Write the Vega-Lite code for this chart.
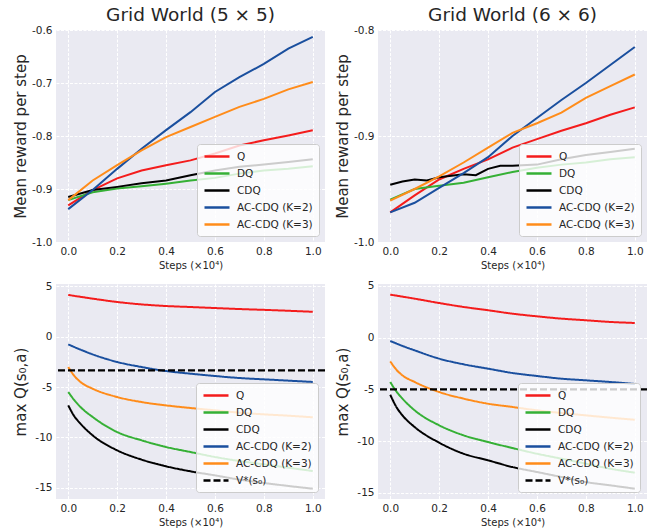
{
  "$schema": "https://vega.github.io/schema/vega-lite/v6.json",
  "padding": {"left": 13, "top": 5, "right": 0, "bottom": 0},
  "bounds": "flush",
  "columns": 2,
  "spacing": {"row": 42, "column": 53},
  "config": {
    "font": "DejaVu Sans",
    "view": {"fill": "#EAEAF2", "stroke": null},
    "axis": {"domain": false, "ticks": false, "labelFontSize": 10.5, "labelColor": "#262626", "labelPadding": 4, "gridColor": "#ffffff", "gridDash": [3, 1.5], "gridWidth": 1, "gridOpacity": 1, "titleFontWeight": "normal", "titleColor": "#262626"},
    "axisX": {"titleFontSize": 10, "titlePadding": 4},
    "axisY": {"titleFontSize": 15},
    "title": {"fontSize": 18.5, "fontWeight": "normal", "color": "#262626", "offset": 1, "baseline": "alphabetic", "anchor": "middle"}
  },
  "datasets": {
    "tl": [
      {"s": "Q", "x": 0, "y": -0.931}, {"s": "Q", "x": 0.1, "y": -0.902}, {"s": "Q", "x": 0.2, "y": -0.880}, {"s": "Q", "x": 0.3, "y": -0.865}, {"s": "Q", "x": 0.4, "y": -0.855}, {"s": "Q", "x": 0.5, "y": -0.846}, {"s": "Q", "x": 0.6, "y": -0.833}, {"s": "Q", "x": 0.7, "y": -0.818}, {"s": "Q", "x": 0.8, "y": -0.808}, {"s": "Q", "x": 0.9, "y": -0.799}, {"s": "Q", "x": 1.0, "y": -0.789},
      {"s": "DQ", "x": 0, "y": -0.921}, {"s": "DQ", "x": 0.1, "y": -0.906}, {"s": "DQ", "x": 0.2, "y": -0.899}, {"s": "DQ", "x": 0.3, "y": -0.895}, {"s": "DQ", "x": 0.4, "y": -0.890}, {"s": "DQ", "x": 0.5, "y": -0.884}, {"s": "DQ", "x": 0.6, "y": -0.879}, {"s": "DQ", "x": 0.7, "y": -0.871}, {"s": "DQ", "x": 0.8, "y": -0.865}, {"s": "DQ", "x": 0.9, "y": -0.862}, {"s": "DQ", "x": 1.0, "y": -0.857},
      {"s": "CDQ", "x": 0, "y": -0.915}, {"s": "CDQ", "x": 0.1, "y": -0.902}, {"s": "CDQ", "x": 0.2, "y": -0.896}, {"s": "CDQ", "x": 0.3, "y": -0.889}, {"s": "CDQ", "x": 0.4, "y": -0.884}, {"s": "CDQ", "x": 0.5, "y": -0.874}, {"s": "CDQ", "x": 0.6, "y": -0.865}, {"s": "CDQ", "x": 0.7, "y": -0.858}, {"s": "CDQ", "x": 0.8, "y": -0.854}, {"s": "CDQ", "x": 0.9, "y": -0.849}, {"s": "CDQ", "x": 1.0, "y": -0.844},
      {"s": "AC-CDQ (K=2)", "x": 0, "y": -0.938}, {"s": "AC-CDQ (K=2)", "x": 0.1, "y": -0.902}, {"s": "AC-CDQ (K=2)", "x": 0.2, "y": -0.862}, {"s": "AC-CDQ (K=2)", "x": 0.3, "y": -0.824}, {"s": "AC-CDQ (K=2)", "x": 0.4, "y": -0.789}, {"s": "AC-CDQ (K=2)", "x": 0.5, "y": -0.755}, {"s": "AC-CDQ (K=2)", "x": 0.6, "y": -0.717}, {"s": "AC-CDQ (K=2)", "x": 0.7, "y": -0.689}, {"s": "AC-CDQ (K=2)", "x": 0.8, "y": -0.664}, {"s": "AC-CDQ (K=2)", "x": 0.9, "y": -0.635}, {"s": "AC-CDQ (K=2)", "x": 1.0, "y": -0.613},
      {"s": "AC-CDQ (K=3)", "x": 0, "y": -0.921}, {"s": "AC-CDQ (K=3)", "x": 0.1, "y": -0.884}, {"s": "AC-CDQ (K=3)", "x": 0.2, "y": -0.855}, {"s": "AC-CDQ (K=3)", "x": 0.3, "y": -0.827}, {"s": "AC-CDQ (K=3)", "x": 0.4, "y": -0.802}, {"s": "AC-CDQ (K=3)", "x": 0.5, "y": -0.783}, {"s": "AC-CDQ (K=3)", "x": 0.6, "y": -0.764}, {"s": "AC-CDQ (K=3)", "x": 0.7, "y": -0.745}, {"s": "AC-CDQ (K=3)", "x": 0.8, "y": -0.730}, {"s": "AC-CDQ (K=3)", "x": 0.9, "y": -0.712}, {"s": "AC-CDQ (K=3)", "x": 1.0, "y": -0.698}
    ],
    "tr": [
      {"s": "Q", "x": 0, "y": -0.972}, {"s": "Q", "x": 0.1, "y": -0.956}, {"s": "Q", "x": 0.2, "y": -0.941}, {"s": "Q", "x": 0.3, "y": -0.931}, {"s": "Q", "x": 0.4, "y": -0.922}, {"s": "Q", "x": 0.5, "y": -0.911}, {"s": "Q", "x": 0.6, "y": -0.903}, {"s": "Q", "x": 0.7, "y": -0.895}, {"s": "Q", "x": 0.8, "y": -0.888}, {"s": "Q", "x": 0.9, "y": -0.880}, {"s": "Q", "x": 1.0, "y": -0.873},
      {"s": "DQ", "x": 0, "y": -0.960}, {"s": "DQ", "x": 0.1, "y": -0.950}, {"s": "DQ", "x": 0.2, "y": -0.947}, {"s": "DQ", "x": 0.3, "y": -0.944}, {"s": "DQ", "x": 0.4, "y": -0.939}, {"s": "DQ", "x": 0.5, "y": -0.934}, {"s": "DQ", "x": 0.6, "y": -0.930}, {"s": "DQ", "x": 0.7, "y": -0.927}, {"s": "DQ", "x": 0.8, "y": -0.925}, {"s": "DQ", "x": 0.9, "y": -0.922}, {"s": "DQ", "x": 1.0, "y": -0.920},
      {"s": "CDQ", "x": 0, "y": -0.946}, {"s": "CDQ", "x": 0.05, "y": -0.943}, {"s": "CDQ", "x": 0.1, "y": -0.941}, {"s": "CDQ", "x": 0.15, "y": -0.942}, {"s": "CDQ", "x": 0.2, "y": -0.939}, {"s": "CDQ", "x": 0.3, "y": -0.936}, {"s": "CDQ", "x": 0.35, "y": -0.937}, {"s": "CDQ", "x": 0.4, "y": -0.931}, {"s": "CDQ", "x": 0.45, "y": -0.928}, {"s": "CDQ", "x": 0.5, "y": -0.928}, {"s": "CDQ", "x": 0.6, "y": -0.927}, {"s": "CDQ", "x": 0.7, "y": -0.922}, {"s": "CDQ", "x": 0.8, "y": -0.918}, {"s": "CDQ", "x": 0.9, "y": -0.915}, {"s": "CDQ", "x": 1.0, "y": -0.912},
      {"s": "AC-CDQ (K=2)", "x": 0, "y": -0.972}, {"s": "AC-CDQ (K=2)", "x": 0.1, "y": -0.963}, {"s": "AC-CDQ (K=2)", "x": 0.2, "y": -0.949}, {"s": "AC-CDQ (K=2)", "x": 0.3, "y": -0.935}, {"s": "AC-CDQ (K=2)", "x": 0.4, "y": -0.920}, {"s": "AC-CDQ (K=2)", "x": 0.5, "y": -0.900}, {"s": "AC-CDQ (K=2)", "x": 0.6, "y": -0.883}, {"s": "AC-CDQ (K=2)", "x": 0.7, "y": -0.866}, {"s": "AC-CDQ (K=2)", "x": 0.8, "y": -0.850}, {"s": "AC-CDQ (K=2)", "x": 0.9, "y": -0.833}, {"s": "AC-CDQ (K=2)", "x": 1.0, "y": -0.816},
      {"s": "AC-CDQ (K=3)", "x": 0, "y": -0.961}, {"s": "AC-CDQ (K=3)", "x": 0.1, "y": -0.950}, {"s": "AC-CDQ (K=3)", "x": 0.2, "y": -0.938}, {"s": "AC-CDQ (K=3)", "x": 0.3, "y": -0.925}, {"s": "AC-CDQ (K=3)", "x": 0.4, "y": -0.911}, {"s": "AC-CDQ (K=3)", "x": 0.5, "y": -0.897}, {"s": "AC-CDQ (K=3)", "x": 0.6, "y": -0.888}, {"s": "AC-CDQ (K=3)", "x": 0.7, "y": -0.878}, {"s": "AC-CDQ (K=3)", "x": 0.8, "y": -0.864}, {"s": "AC-CDQ (K=3)", "x": 0.9, "y": -0.853}, {"s": "AC-CDQ (K=3)", "x": 1.0, "y": -0.842}
    ],
    "bl": [
      {"s": "Q", "x": 0, "y": 4.12}, {"s": "Q", "x": 0.1, "y": 3.75}, {"s": "Q", "x": 0.2, "y": 3.42}, {"s": "Q", "x": 0.3, "y": 3.18}, {"s": "Q", "x": 0.4, "y": 3.02}, {"s": "Q", "x": 0.5, "y": 2.92}, {"s": "Q", "x": 0.6, "y": 2.82}, {"s": "Q", "x": 0.7, "y": 2.72}, {"s": "Q", "x": 0.8, "y": 2.64}, {"s": "Q", "x": 0.9, "y": 2.55}, {"s": "Q", "x": 1.0, "y": 2.45},
      {"s": "DQ", "x": 0, "y": -5.5}, {"s": "DQ", "x": 0.025, "y": -6.3}, {"s": "DQ", "x": 0.05, "y": -6.98}, {"s": "DQ", "x": 0.1, "y": -7.97}, {"s": "DQ", "x": 0.2, "y": -9.46}, {"s": "DQ", "x": 0.3, "y": -10.28}, {"s": "DQ", "x": 0.4, "y": -10.94}, {"s": "DQ", "x": 0.5, "y": -11.44}, {"s": "DQ", "x": 0.6, "y": -11.93}, {"s": "DQ", "x": 0.7, "y": -12.33}, {"s": "DQ", "x": 0.8, "y": -12.66}, {"s": "DQ", "x": 0.9, "y": -12.99}, {"s": "DQ", "x": 1.0, "y": -13.32},
      {"s": "CDQ", "x": 0, "y": -6.82}, {"s": "CDQ", "x": 0.025, "y": -7.9}, {"s": "CDQ", "x": 0.05, "y": -8.63}, {"s": "CDQ", "x": 0.1, "y": -9.79}, {"s": "CDQ", "x": 0.2, "y": -11.27}, {"s": "CDQ", "x": 0.3, "y": -12.19}, {"s": "CDQ", "x": 0.4, "y": -12.85}, {"s": "CDQ", "x": 0.5, "y": -13.35}, {"s": "CDQ", "x": 0.6, "y": -13.75}, {"s": "CDQ", "x": 0.7, "y": -14.17}, {"s": "CDQ", "x": 0.8, "y": -14.5}, {"s": "CDQ", "x": 0.9, "y": -14.8}, {"s": "CDQ", "x": 1.0, "y": -15.07},
      {"s": "AC-CDQ (K=2)", "x": 0, "y": -0.78}, {"s": "AC-CDQ (K=2)", "x": 0.05, "y": -1.3}, {"s": "AC-CDQ (K=2)", "x": 0.1, "y": -1.77}, {"s": "AC-CDQ (K=2)", "x": 0.2, "y": -2.52}, {"s": "AC-CDQ (K=2)", "x": 0.3, "y": -3.02}, {"s": "AC-CDQ (K=2)", "x": 0.4, "y": -3.42}, {"s": "AC-CDQ (K=2)", "x": 0.5, "y": -3.68}, {"s": "AC-CDQ (K=2)", "x": 0.6, "y": -3.91}, {"s": "AC-CDQ (K=2)", "x": 0.7, "y": -4.11}, {"s": "AC-CDQ (K=2)", "x": 0.8, "y": -4.24}, {"s": "AC-CDQ (K=2)", "x": 0.9, "y": -4.37}, {"s": "AC-CDQ (K=2)", "x": 1.0, "y": -4.5},
      {"s": "AC-CDQ (K=3)", "x": 0, "y": -3.02}, {"s": "AC-CDQ (K=3)", "x": 0.025, "y": -3.9}, {"s": "AC-CDQ (K=3)", "x": 0.05, "y": -4.5}, {"s": "AC-CDQ (K=3)", "x": 0.1, "y": -5.17}, {"s": "AC-CDQ (K=3)", "x": 0.2, "y": -5.99}, {"s": "AC-CDQ (K=3)", "x": 0.3, "y": -6.49}, {"s": "AC-CDQ (K=3)", "x": 0.4, "y": -6.82}, {"s": "AC-CDQ (K=3)", "x": 0.5, "y": -7.08}, {"s": "AC-CDQ (K=3)", "x": 0.6, "y": -7.31}, {"s": "AC-CDQ (K=3)", "x": 0.7, "y": -7.54}, {"s": "AC-CDQ (K=3)", "x": 0.8, "y": -7.71}, {"s": "AC-CDQ (K=3)", "x": 0.9, "y": -7.84}, {"s": "AC-CDQ (K=3)", "x": 1.0, "y": -8.0}
    ],
    "br": [
      {"s": "Q", "x": 0, "y": 4.16}, {"s": "Q", "x": 0.1, "y": 3.77}, {"s": "Q", "x": 0.2, "y": 3.35}, {"s": "Q", "x": 0.3, "y": 2.97}, {"s": "Q", "x": 0.4, "y": 2.65}, {"s": "Q", "x": 0.5, "y": 2.32}, {"s": "Q", "x": 0.6, "y": 2.06}, {"s": "Q", "x": 0.7, "y": 1.84}, {"s": "Q", "x": 0.8, "y": 1.68}, {"s": "Q", "x": 0.9, "y": 1.52}, {"s": "Q", "x": 1.0, "y": 1.42},
      {"s": "DQ", "x": 0, "y": -4.29}, {"s": "DQ", "x": 0.025, "y": -5.2}, {"s": "DQ", "x": 0.05, "y": -5.9}, {"s": "DQ", "x": 0.1, "y": -7.03}, {"s": "DQ", "x": 0.2, "y": -8.48}, {"s": "DQ", "x": 0.3, "y": -9.45}, {"s": "DQ", "x": 0.4, "y": -10.1}, {"s": "DQ", "x": 0.5, "y": -10.68}, {"s": "DQ", "x": 0.6, "y": -11.23}, {"s": "DQ", "x": 0.7, "y": -11.71}, {"s": "DQ", "x": 0.8, "y": -12.19}, {"s": "DQ", "x": 0.9, "y": -12.68}, {"s": "DQ", "x": 1.0, "y": -13.06},
      {"s": "CDQ", "x": 0, "y": -5.52}, {"s": "CDQ", "x": 0.025, "y": -6.7}, {"s": "CDQ", "x": 0.05, "y": -7.52}, {"s": "CDQ", "x": 0.1, "y": -8.65}, {"s": "CDQ", "x": 0.2, "y": -10.16}, {"s": "CDQ", "x": 0.3, "y": -11.23}, {"s": "CDQ", "x": 0.4, "y": -11.87}, {"s": "CDQ", "x": 0.5, "y": -12.52}, {"s": "CDQ", "x": 0.6, "y": -13.0}, {"s": "CDQ", "x": 0.7, "y": -13.48}, {"s": "CDQ", "x": 0.8, "y": -13.97}, {"s": "CDQ", "x": 0.9, "y": -14.29}, {"s": "CDQ", "x": 1.0, "y": -14.61},
      {"s": "AC-CDQ (K=2)", "x": 0, "y": -0.32}, {"s": "AC-CDQ (K=2)", "x": 0.05, "y": -0.8}, {"s": "AC-CDQ (K=2)", "x": 0.1, "y": -1.23}, {"s": "AC-CDQ (K=2)", "x": 0.2, "y": -2.03}, {"s": "AC-CDQ (K=2)", "x": 0.3, "y": -2.58}, {"s": "AC-CDQ (K=2)", "x": 0.4, "y": -3.0}, {"s": "AC-CDQ (K=2)", "x": 0.5, "y": -3.42}, {"s": "AC-CDQ (K=2)", "x": 0.6, "y": -3.71}, {"s": "AC-CDQ (K=2)", "x": 0.7, "y": -3.97}, {"s": "AC-CDQ (K=2)", "x": 0.8, "y": -4.13}, {"s": "AC-CDQ (K=2)", "x": 0.9, "y": -4.29}, {"s": "AC-CDQ (K=2)", "x": 1.0, "y": -4.48},
      {"s": "AC-CDQ (K=3)", "x": 0, "y": -2.29}, {"s": "AC-CDQ (K=3)", "x": 0.025, "y": -3.1}, {"s": "AC-CDQ (K=3)", "x": 0.05, "y": -3.65}, {"s": "AC-CDQ (K=3)", "x": 0.1, "y": -4.29}, {"s": "AC-CDQ (K=3)", "x": 0.2, "y": -5.26}, {"s": "AC-CDQ (K=3)", "x": 0.3, "y": -5.9}, {"s": "AC-CDQ (K=3)", "x": 0.4, "y": -6.39}, {"s": "AC-CDQ (K=3)", "x": 0.5, "y": -6.71}, {"s": "AC-CDQ (K=3)", "x": 0.6, "y": -7.03}, {"s": "AC-CDQ (K=3)", "x": 0.7, "y": -7.29}, {"s": "AC-CDQ (K=3)", "x": 0.8, "y": -7.52}, {"s": "AC-CDQ (K=3)", "x": 0.9, "y": -7.74}, {"s": "AC-CDQ (K=3)", "x": 1.0, "y": -7.94}
    ],
    "vbl": [{"s": "V*(s₀)", "y": -3.35}],
    "vbr": [{"s": "V*(s₀)", "y": -5.0}]
  },
  "resolve": {
    "scale": {"x": "independent", "y": "independent", "color": "independent", "strokeDash": "independent"},
    "legend": {"color": "independent", "strokeDash": "independent"}
  },
  "concat": [
    {
      "width": 269, "height": 212,
      "title": "Grid World (5 × 5)",
      "data": {"name": "tl"},
      "mark": {"type": "line", "strokeWidth": 2},
      "encoding": {
        "x": {"field": "x", "type": "quantitative", "scale": {"domain": [-0.05, 1.05], "nice": false, "zero": false}, "axis": {"values": [0, 0.2, 0.4, 0.6, 0.8, 1], "format": ".1f", "title": "Steps (×10⁴)"}},
        "y": {"field": "y", "type": "quantitative", "scale": {"domain": [-1, -0.6], "nice": false, "zero": false}, "axis": {"values": [-1, -0.9, -0.8, -0.7, -0.6], "labelExpr": "replace(format(datum.value, '.1f'), '\u2212', '-')", "title": "Mean reward per step", "titleX": -31, "titleBaseline": "alphabetic"}},
        "color": {"field": "s", "type": "nominal", "sort": null, "scale": {"domain": ["Q", "DQ", "CDQ", "AC-CDQ (K=2)", "AC-CDQ (K=3)"], "range": ["#f41c1c", "#35b035", "#000000", "#1a4f9e", "#ff8c1a"]},
          "legend": {"title": null, "orient": "bottom-right", "offset": 6, "fillColor": "rgba(255,255,255,0.8)", "strokeColor": "#cccccc", "cornerRadius": 3, "padding": 6, "symbolType": "M-1,0H4", "symbolSize": 100, "symbolStrokeWidth": 2.5, "labelFontSize": 10.5, "labelOffset": 21, "rowPadding": 5, "labelColor": "#262626"}}
      }
    },
    {
      "width": 269, "height": 212,
      "title": "Grid World (6 × 6)",
      "data": {"name": "tr"},
      "mark": {"type": "line", "strokeWidth": 2},
      "encoding": {
        "x": {"field": "x", "type": "quantitative", "scale": {"domain": [-0.05, 1.05], "nice": false, "zero": false}, "axis": {"values": [0, 0.2, 0.4, 0.6, 0.8, 1], "format": ".1f", "title": "Steps (×10⁴)"}},
        "y": {"field": "y", "type": "quantitative", "scale": {"domain": [-1, -0.8], "nice": false, "zero": false}, "axis": {"values": [-1, -0.9, -0.8], "labelExpr": "replace(format(datum.value, '.1f'), '\u2212', '-')", "title": "Mean reward per step", "titleX": -31, "titleBaseline": "alphabetic"}},
        "color": {"field": "s", "type": "nominal", "sort": null, "scale": {"domain": ["Q", "DQ", "CDQ", "AC-CDQ (K=2)", "AC-CDQ (K=3)"], "range": ["#f41c1c", "#35b035", "#000000", "#1a4f9e", "#ff8c1a"]},
          "legend": {"title": null, "orient": "bottom-right", "offset": 6, "fillColor": "rgba(255,255,255,0.8)", "strokeColor": "#cccccc", "cornerRadius": 3, "padding": 6, "symbolType": "M-1,0H4", "symbolSize": 100, "symbolStrokeWidth": 2.5, "labelFontSize": 10.5, "labelOffset": 21, "rowPadding": 5, "labelColor": "#262626"}}
      }
    },
    {
      "width": 269, "height": 215,
      "encoding": {
        "y": {"field": "y", "type": "quantitative", "scale": {"domain": [-16.09, 5.2], "nice": false, "zero": false}, "axis": {"values": [-15, -10, -5, 0, 5], "labelExpr": "replace(format(datum.value, 'd'), '\u2212', '-')", "title": "max Q(s₀,a)", "titleX": -31, "titleBaseline": "alphabetic"}},
        "color": {"field": "s", "type": "nominal", "sort": null, "scale": {"domain": ["Q", "DQ", "CDQ", "AC-CDQ (K=2)", "AC-CDQ (K=3)", "V*(s₀)"], "range": ["#f41c1c", "#35b035", "#000000", "#1a4f9e", "#ff8c1a", "#000000"]},
          "legend": {"title": null, "orient": "bottom-right", "offset": 7, "fillColor": "rgba(255,255,255,0.8)", "strokeColor": "#cccccc", "cornerRadius": 3, "padding": 6, "symbolType": "M-1,0H4", "symbolSize": 100, "symbolStrokeWidth": 2.5, "labelFontSize": 10.5, "labelOffset": 21, "rowPadding": 5, "labelColor": "#262626"}},
        "strokeDash": {"field": "s", "type": "nominal", "sort": null, "scale": {"domain": ["Q", "DQ", "CDQ", "AC-CDQ (K=2)", "AC-CDQ (K=3)", "V*(s₀)"], "range": [[1, 0], [1, 0], [1, 0], [1, 0], [1, 0], [7, 3]]},
          "legend": {"title": null, "orient": "bottom-right", "offset": 7, "fillColor": "rgba(255,255,255,0.8)", "strokeColor": "#cccccc", "cornerRadius": 3, "padding": 6, "symbolType": "M-1,0H4", "symbolSize": 100, "symbolStrokeWidth": 2.5, "labelFontSize": 10.5, "labelOffset": 21, "rowPadding": 5, "labelColor": "#262626"}}
      },
      "layer": [
        {
          "data": {"name": "bl"},
          "mark": {"type": "line", "strokeWidth": 2, "interpolate": "monotone"},
          "encoding": {
            "x": {"field": "x", "type": "quantitative", "scale": {"domain": [-0.05, 1.05], "nice": false, "zero": false}, "axis": {"values": [0, 0.2, 0.4, 0.6, 0.8, 1], "format": ".1f", "title": "Steps (×10⁴)"}}
          }
        },
        {
          "data": {"name": "vbl"},
          "mark": {"type": "rule", "strokeWidth": 2.2},
          "encoding": {}
        }
      ]
    },
    {
      "width": 269, "height": 215,
      "encoding": {
        "y": {"field": "y", "type": "quantitative", "scale": {"domain": [-15.61, 5.19], "nice": false, "zero": false}, "axis": {"values": [-15, -10, -5, 0, 5], "labelExpr": "replace(format(datum.value, 'd'), '\u2212', '-')", "title": "max Q(s₀,a)", "titleX": -31, "titleBaseline": "alphabetic"}},
        "color": {"field": "s", "type": "nominal", "sort": null, "scale": {"domain": ["Q", "DQ", "CDQ", "AC-CDQ (K=2)", "AC-CDQ (K=3)", "V*(s₀)"], "range": ["#f41c1c", "#35b035", "#000000", "#1a4f9e", "#ff8c1a", "#000000"]},
          "legend": {"title": null, "orient": "bottom-right", "offset": 7, "fillColor": "rgba(255,255,255,0.8)", "strokeColor": "#cccccc", "cornerRadius": 3, "padding": 6, "symbolType": "M-1,0H4", "symbolSize": 100, "symbolStrokeWidth": 2.5, "labelFontSize": 10.5, "labelOffset": 21, "rowPadding": 5, "labelColor": "#262626"}},
        "strokeDash": {"field": "s", "type": "nominal", "sort": null, "scale": {"domain": ["Q", "DQ", "CDQ", "AC-CDQ (K=2)", "AC-CDQ (K=3)", "V*(s₀)"], "range": [[1, 0], [1, 0], [1, 0], [1, 0], [1, 0], [7, 3]]},
          "legend": {"title": null, "orient": "bottom-right", "offset": 7, "fillColor": "rgba(255,255,255,0.8)", "strokeColor": "#cccccc", "cornerRadius": 3, "padding": 6, "symbolType": "M-1,0H4", "symbolSize": 100, "symbolStrokeWidth": 2.5, "labelFontSize": 10.5, "labelOffset": 21, "rowPadding": 5, "labelColor": "#262626"}}
      },
      "layer": [
        {
          "data": {"name": "br"},
          "mark": {"type": "line", "strokeWidth": 2, "interpolate": "monotone"},
          "encoding": {
            "x": {"field": "x", "type": "quantitative", "scale": {"domain": [-0.05, 1.05], "nice": false, "zero": false}, "axis": {"values": [0, 0.2, 0.4, 0.6, 0.8, 1], "format": ".1f", "title": "Steps (×10⁴)"}}
          }
        },
        {
          "data": {"name": "vbr"},
          "mark": {"type": "rule", "strokeWidth": 2.2},
          "encoding": {}
        }
      ]
    }
  ]
}
